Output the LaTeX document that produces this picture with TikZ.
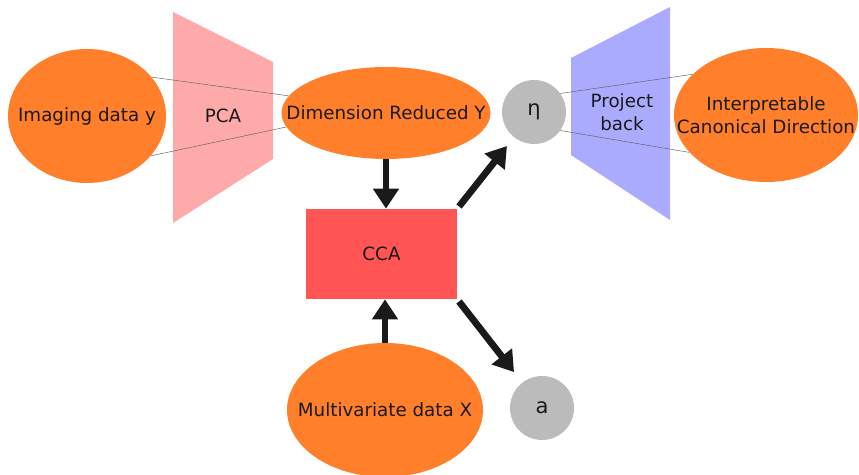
\documentclass[tikz,border=0pt]{standalone}
\usepackage{fontspec}
\setmainfont{DejaVu Sans}
\usepackage{xcolor}
\usetikzlibrary{arrows.meta, positioning, shapes.geometric, calc}

\definecolor{blobOrange}{HTML}{FF7F2A}
\definecolor{pcaPink}{HTML}{FFAAAA}
\definecolor{backBlue}{HTML}{AAAAFF}
\definecolor{ccaRed}{HTML}{FF5555}
\definecolor{outGray}{HTML}{BBBBBB}
\definecolor{inkDark}{HTML}{1A1A1A}

\begin{document}
\begin{tikzpicture}[
    txt/.style={font=\fontsize{13}{16}\selectfont, text=inkDark},
    blob/.style={ellipse, fill=blobOrange, inner sep=0pt, minimum width=#1, minimum height=3.35cm},
    outvar/.style={circle, fill=outGray, inner sep=0pt, minimum size=1.6cm, font=\fontsize{15}{18}\selectfont, text=inkDark},
    arr/.style={-{Triangle[width=0.62cm, length=0.5cm]}, line width=0.17cm, draw=inkDark},
    projline/.style={draw=black!60, line width=0.35pt}
]
\useasboundingbox (0,0) rectangle (21.475,11.875);

% Trapezoids
\fill[pcaPink] (4.325,11.575) -- (6.825,10.325) -- (6.825,7.9) -- (4.325,6.3) -- cycle;
\node[txt] (pca) at (5.575,8.975) {PCA};
\fill[backBlue] (14.275,10.425) -- (16.75,11.7) -- (16.75,6.375) -- (14.275,8.0) -- cycle;
\node[txt, align=center] (back) at (15.55,9.075) {Project\\back};

% Data and results
\node[blob=3.95cm, label={[txt]center:Imaging data y}] (img) at (2.175,8.975) {};
\node[blob=5.225cm, minimum height=2.3cm, label={[txt]center:Dimension Reduced Y}] (dim) at (9.65,9.05) {};
\node[blob=4.6cm, label={[txt, align=center]center:Interpretable\\Canonical Direction}] (icd) at (19.15,9.0) {};
\node[blob=4.9cm, label={[txt]center:Multivariate data X}] (mvx) at (9.625,1.625) {};
\node[rectangle, fill=ccaRed, minimum width=3.775cm, minimum height=2.25cm, txt] (cca) at (9.5375,5.525) {CCA};
\node[outvar] (eta) at (13.35,9.075) {η};
\node[outvar] (a) at (13.55,1.675) {a};

% Projection lines
\draw[projline] (img.31) -- (dim.170);
\draw[projline] (img.-32) -- (dim.188);
\draw[projline] (eta.35) -- (icd.151);
\draw[projline] (eta.-35) -- (icd.206);

% Arrows
\draw[arr] (dim.south) -- (dim.south |- cca.north);
\draw[arr] (mvx.north) -- (mvx.north |- cca.south);
\draw[arr, shorten <=2pt, shorten >=0.28cm] (cca.north east) -- (eta);
\draw[arr, shorten <=2pt, shorten >=0.33cm] (cca.south east) -- (a);

\end{tikzpicture}
\end{document}
